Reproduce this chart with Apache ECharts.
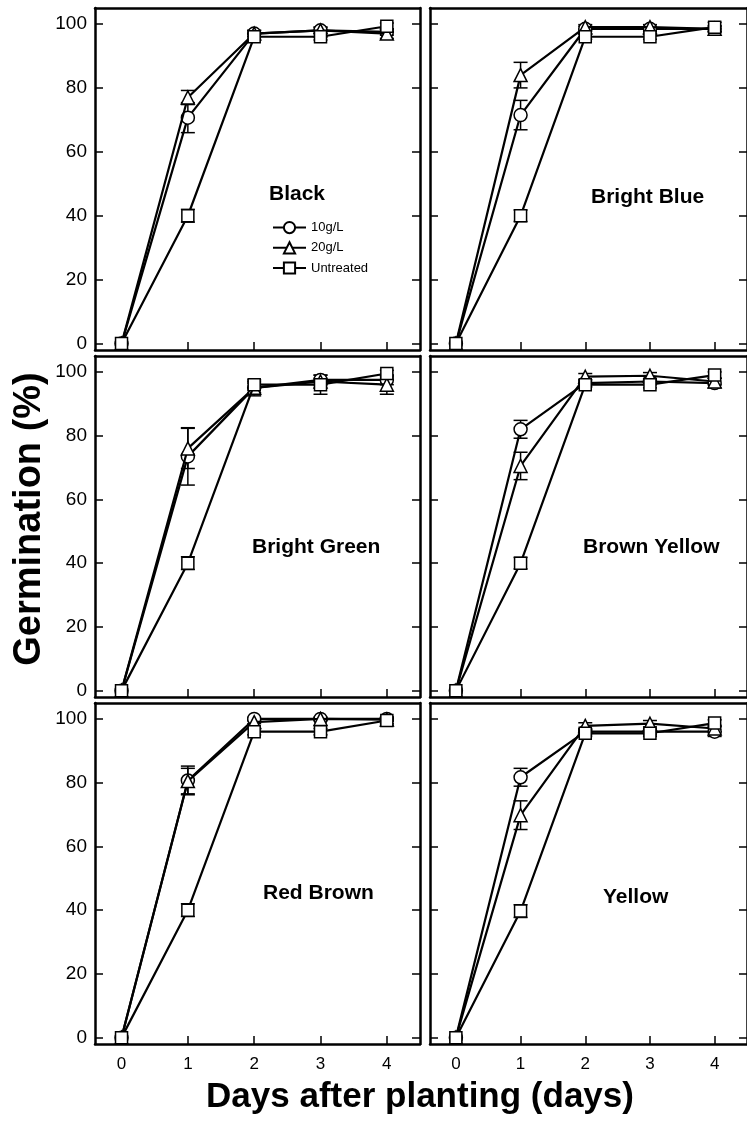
<!DOCTYPE html>
<html>
<head>
<meta charset="utf-8">
<script src="https://cdn.jsdelivr.net/npm/echarts@6/dist/echarts.min.js"></script>
<style>
  html, body { margin: 0; padding: 0; background: #fff; }
  #chart { width: 747px; height: 1124px; }
</style>
</head>
<body>
<div id="chart"></div>
<script>
// days on the x axis and tick values
var days = [0, 1, 2, 3, 4];
var yTicks = [0, 20, 40, 60, 80, 100];
var panelNames = ['Black', 'Bright Blue', 'Bright Green', 'Brown Yellow', 'Red Brown', 'Yellow'];
var seriesNames = ['10g/L', '20g/L', 'Untreated'];

// germination (%) per panel, one row per panel in panelNames order
var g10Values = [
  [0, 70.7, 97, 98, 97.5],
  [0, 71.5, 98.5, 98.5, 98.5],
  [0, 73.5, 95, 97.5, 97.5],
  [0, 82, 96.5, 97, 96.5],
  [0, 80.7, 100, 100, 100],
  [0, 81.7, 96, 96, 96]
];
var g20Values = [
  [0, 77, 97, 98, 97],
  [0, 84, 99, 99, 98.5],
  [0, 76, 95, 97, 96],
  [0, 70.5, 98.5, 98.8, 97],
  [0, 80.5, 99, 100, 99.8],
  [0, 69.8, 97.8, 98.5, 97]
];
var untreatedValues = [
  [0, 40, 96, 96, 99.3],
  [0, 40, 96, 96, 99],
  [0, 40, 96, 96, 99.5],
  [0, 40, 96, 96, 99],
  [0, 40, 96, 96, 99.5],
  [0, 39.7, 95.5, 95.5, 98.7]
];
// error bars (+/-)
var g10Err = [
  [0, 4.7, 1, 1, 1],
  [0, 4.6, 0.8, 0.8, 0.8],
  [0, 9, 1.5, 1.5, 1.5],
  [0, 2.8, 1, 1, 1.5],
  [0, 4.5, 0.5, 0.5, 0.5],
  [0, 2.8, 1, 1, 1.5]
];
var g20Err = [
  [0, 2.2, 1, 1, 1.5],
  [0, 4, 0.8, 0.8, 1],
  [0, 6.3, 2.5, 1, 3],
  [0, 4.3, 1, 1, 1],
  [0, 4, 0.5, 0.5, 0.5],
  [0, 4.5, 1, 1, 1]
];
var untreatedErr = [
  [0, 2, 0.8, 1, 1],
  [0, 1.8, 0.8, 0.8, 1.5],
  [0, 2, 1, 3, 1],
  [0, 1.8, 0.8, 1, 1],
  [0, 2, 1, 1, 1],
  [0, 2, 1, 1, 1]
];

var myChart = echarts.init(document.getElementById('chart'));

var font = 'Liberation Sans, Arial, sans-serif';
var colLeft = [95, 430];
var colWidth = [325, 326];
var rowTop = [8, 356, 703];
var rowHeight = [342, 341, 341];
var titlePos = [[269, 194], [591, 197], [252, 547], [583, 547], [263, 893], [603, 897]];

var symbols = ['circle', 'triangle', 'rect'];
var symbolSizes = [13, 13, 12];
var allValues = [g10Values, g20Values, untreatedValues];
var allErr = [g10Err, g20Err, untreatedErr];

// vertical bar with caps, drawn under the markers
function errorBar(params, api) {
  var e = api.value(2);
  if (!e) return;
  var x = api.value(0), y = api.value(1);
  var hi = api.coord([x, y + e]);
  var lo = api.coord([x, y - e]);
  var w = 7;
  var st = { stroke: '#000', lineWidth: 1.5 };
  return {
    type: 'group',
    children: [
      { type: 'line', shape: { x1: hi[0], y1: hi[1], x2: lo[0], y2: lo[1] }, style: st },
      { type: 'line', shape: { x1: hi[0] - w, y1: hi[1], x2: hi[0] + w, y2: hi[1] }, style: st },
      { type: 'line', shape: { x1: lo[0] - w, y1: lo[1], x2: lo[0] + w, y2: lo[1] }, style: st }
    ]
  };
}

var grids = [], xAxes = [], yAxes = [], series = [], graphics = [];
var frameLine = { show: true, onZero: false, lineStyle: { color: '#000', width: 2.5 } };

for (var i = 0; i < panelNames.length; i++) {
  var col = i % 2, row = Math.floor(i / 2);
  grids.push({ left: colLeft[col], top: rowTop[row], width: colWidth[col], height: rowHeight[row] });

  // bottom x axis
  xAxes.push({
    type: 'value', gridIndex: i, min: -0.4, max: 4.5, position: 'bottom',
    axisLine: frameLine,
    axisTick: { show: true, inside: true, length: 8, customValues: days, lineStyle: { color: '#000', width: 1.5 } },
    axisLabel: { show: row == 2, customValues: days, margin: 12, color: '#000', fontSize: 17, fontFamily: font },
    splitLine: { show: false }
  });
  // top frame
  xAxes.push({
    type: 'value', gridIndex: i, min: -0.4, max: 4.5, position: 'top',
    axisLine: frameLine, axisTick: { show: false }, axisLabel: { show: false }, splitLine: { show: false }
  });
  // left y axis
  yAxes.push({
    type: 'value', gridIndex: i, min: -2, max: 105, position: 'left',
    axisLine: frameLine,
    axisTick: { show: true, inside: true, length: 8, customValues: yTicks, lineStyle: { color: '#000', width: 1.5 } },
    axisLabel: { show: col == 0, customValues: yTicks, margin: 8, color: '#000', fontSize: 19, fontFamily: font },
    splitLine: { show: false }
  });
  // right frame
  yAxes.push({
    type: 'value', gridIndex: i, min: -2, max: 105, position: 'right',
    axisLine: frameLine,
    axisTick: { show: true, inside: true, length: 8, customValues: yTicks, lineStyle: { color: '#000', width: 1.5 } },
    axisLabel: { show: false },
    splitLine: { show: false }
  });

  for (var s = 0; s < 3; s++) {
    var lineData = [], errData = [];
    for (var d = 0; d < days.length; d++) {
      lineData.push([days[d], allValues[s][i][d]]);
      errData.push([days[d], allValues[s][i][d], allErr[s][i][d]]);
    }
    series.push({
      type: 'custom', xAxisIndex: 2 * i, yAxisIndex: 2 * i,
      renderItem: errorBar, data: errData, z: 1, silent: true
    });
    series.push({
      name: seriesNames[s], type: 'line', xAxisIndex: 2 * i, yAxisIndex: 2 * i,
      data: lineData, symbol: symbols[s], symbolSize: symbolSizes[s], showAllSymbol: true,
      lineStyle: { color: '#000', width: 2.2 },
      itemStyle: { color: '#fff', borderColor: '#000', borderWidth: 1.5 },
      z: 2 + s
    });
  }

  graphics.push({
    type: 'text', x: titlePos[i][0], y: titlePos[i][1],
    style: { text: panelNames[i], fill: '#000', font: 'bold 21px ' + font, textVerticalAlign: 'middle' }
  });
}

graphics.push({
  type: 'text', x: 30, y: 519, rotation: Math.PI / 2,
  style: { text: 'Germination (%)', fill: '#000', font: 'bold 38px ' + font, textAlign: 'center', textVerticalAlign: 'middle' }
});
graphics.push({
  type: 'text', x: 420, y: 1097,
  style: { text: 'Days after planting (days)', fill: '#000', font: 'bold 35px ' + font, textAlign: 'center', textVerticalAlign: 'middle' }
});

var option = {
  animation: false,
  backgroundColor: '#fff',
  grid: grids,
  xAxis: xAxes,
  yAxis: yAxes,
  legend: {
    data: seriesNames, orient: 'vertical', left: 267, top: 216,
    itemWidth: 33, itemHeight: 14, itemGap: 7,
    textStyle: { color: '#000', fontSize: 13, fontFamily: font },
    selectedMode: false
  },
  graphic: graphics,
  series: series
};

myChart.setOption(option);
</script>
</body>
</html>
